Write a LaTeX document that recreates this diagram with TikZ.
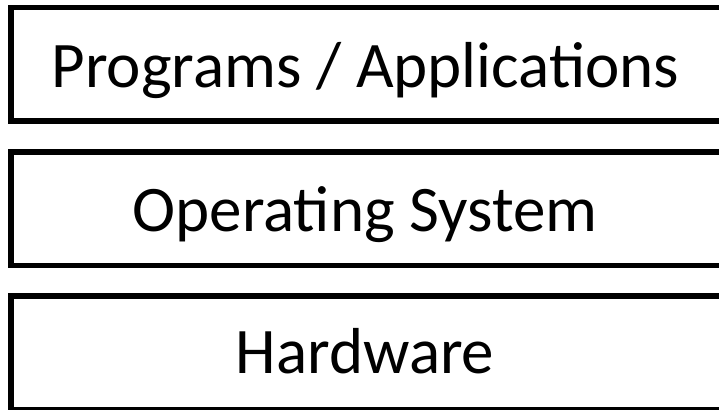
\documentclass[tikz,border=0pt]{standalone}
\usepackage{fontspec}
\setmainfont{Carlito}
\begin{document}
\begin{tikzpicture}[x=1pt,y=-1pt,
  layer/.style={draw=black, line width=5.5pt, rectangle, inner sep=0pt, minimum width=712pt, minimum height=113.5pt},
  lbl/.style={anchor=base, inner sep=0pt, font=\fontsize{65}{78}\selectfont}]
\useasboundingbox (0,0) rectangle (719,409);
\node[layer] (apps) at (367,64.25) {};
\node[layer] (os) at (367,208.5) {};
\node[layer] (hw) at (367,352.5) {};
\node[lbl] (tapps) at ([xshift=-1.5pt,yshift=-23.5pt]apps.center) {Programs / Applications};
\node[lbl] (tos) at ([xshift=-2pt,yshift=-22.5pt]os.center) {Operating System};
\node[lbl] (thw) at ([xshift=-2pt,yshift=-20.5pt]hw.center) {Hardware};
\end{tikzpicture}
\end{document}
